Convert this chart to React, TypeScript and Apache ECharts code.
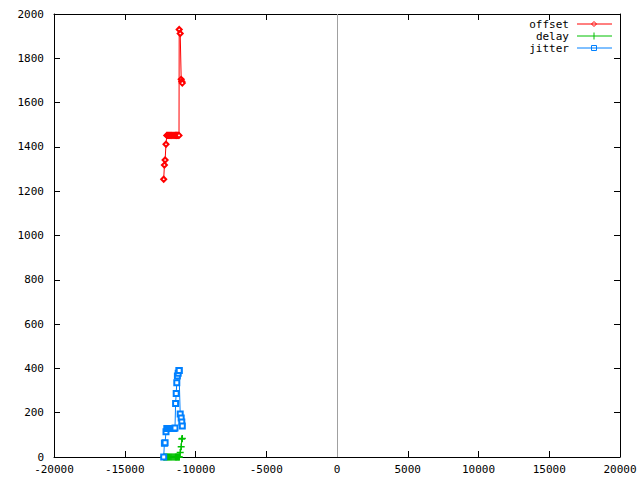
import React, { useEffect, useRef } from "react";
import * as echarts from "echarts";

const times = [
  -12247, -12198, -12148, -12085, -12028, -11972, -11915, -11852, -11788, -11724,
  -11661, -11590, -11519, -11449, -11406, -11364, -11322, -11279, -11223, -11166,
  -11152, -11081, -11011, -10968, -10933,
];
const offsetVals = [
  1254, 1318, 1341, 1412, 1452, 1452, 1452, 1452, 1452, 1452,
  1452, 1452, 1452, 1452, 1452, 1452, 1452, 1452, 1452, 1452,
  1930, 1912, 1705, 1695, 1688,
];
const delayVals = [
  0, 0, 0, 0, 0, 0, 0, 0, 0, 0,
  0, 0, 0, 0, 0, 0, 0, 0, 0, 0,
  0, 20, 46, 81, 84,
];
const jitterVals = [
  0, 62, 64, 114, 129, 129, 129, 129, 129, 129,
  129, 129, 129, 131, 242, 287, 335, 366, 378, 390,
  390, 194, 176, 158, 140,
];
const seriesNames = ["offset", "delay", "jitter"];
const seriesColors = ["#ff0000", "#00c000", "#0080ff"];

const FONT = "DejaVu Sans Mono";
const plusPath = "path://M4,0h2v4h4v2h-4v4h-2v-4h-4v-2h4z";

export default function App() {
  const ref = useRef<HTMLDivElement>(null);
  useEffect(() => {
    if (!ref.current) return;
    const chart = echarts.init(ref.current, undefined, { renderer: "svg" });
    const pair = (vals: number[]) => times.map((t, i) => [t, vals[i]]);
    const axisCommon = {
      axisLine: { show: true, onZero: false, lineStyle: { color: "#000", width: 1 } },
      axisTick: { show: true, inside: true, length: 6, lineStyle: { color: "#000" } },
      splitLine: { show: false },
    };
    const fmt = (v: number) => String(v);
    const legendRows = [24, 36, 48];
    const graphics: any[] = [];
    seriesNames.forEach((n, i) => {
      const y = legendRows[i];
      graphics.push({
        type: "text",
        x: 569,
        y,
        style: {
          text: n,
          font: `11px '${FONT}'`,
          lineHeight: 10,
          fill: "#000",
          align: "right",
          verticalAlign: "middle",
        },
      });
      graphics.push({
        type: "line",
        shape: { x1: 577, y1: y, x2: 612, y2: y },
        style: { stroke: seriesColors[i], lineWidth: 1 },
      });
    });
    graphics.push({
      type: "polygon",
      shape: { points: [[594, 21.5], [596.5, 24], [594, 26.5], [591.5, 24]] },
      style: { fill: "none", stroke: seriesColors[0], lineWidth: 1 },
    });
    graphics.push({
      type: "line",
      shape: { x1: 594, y1: 32.5, x2: 594, y2: 39.5 },
      style: { stroke: seriesColors[1], lineWidth: 1 },
    });
    graphics.push({
      type: "rect",
      shape: { x: 591.5, y: 45.5, width: 5, height: 5 },
      style: { fill: "none", stroke: seriesColors[2], lineWidth: 1 },
    });

    chart.setOption({
      animation: false,
      backgroundColor: "#fff",
      textStyle: { fontFamily: FONT },
      grid: { left: 54, right: 20, top: 14, bottom: 23 },
      xAxis: [
        {
          type: "value",
          min: -20000,
          max: 20000,
          interval: 5000,
          position: "bottom",
          ...axisCommon,
          axisLabel: { color: "#000", fontSize: 11, fontFamily: FONT, margin: 7, formatter: fmt },
        },
        {
          type: "value",
          min: -20000,
          max: 20000,
          interval: 5000,
          position: "top",
          ...axisCommon,
          axisLabel: { show: false },
        },
      ],
      yAxis: [
        {
          type: "value",
          min: 0,
          max: 2000,
          interval: 200,
          position: "left",
          ...axisCommon,
          axisLabel: { color: "#000", fontSize: 11, fontFamily: FONT, margin: 10, formatter: fmt },
        },
        {
          type: "value",
          min: 0,
          max: 2000,
          interval: 200,
          position: "right",
          ...axisCommon,
          axisLabel: { show: false },
        },
      ],
      graphic: graphics,
      series: [
        {
          name: seriesNames[0],
          type: "line",
          data: pair(offsetVals),
          symbol: "emptyDiamond",
          symbolSize: 5,
          showSymbol: true,
          lineStyle: { color: seriesColors[0], width: 1 },
          itemStyle: { color: seriesColors[0], borderWidth: 1 },
          markLine: {
            silent: true,
            symbol: "none",
            label: { show: false },
            lineStyle: { color: "#a0a0a0", width: 1, type: "solid" },
            data: [{ xAxis: 0 }],
          },
          z: 3,
        },
        {
          name: seriesNames[1],
          type: "line",
          data: pair(delayVals),
          symbol: plusPath,
          symbolSize: 7,
          showSymbol: true,
          lineStyle: { color: seriesColors[1], width: 1 },
          itemStyle: { color: seriesColors[1] },
          z: 4,
        },
        {
          name: seriesNames[2],
          type: "line",
          data: pair(jitterVals),
          symbol: "emptyRect",
          symbolSize: 5,
          showSymbol: true,
          lineStyle: { color: seriesColors[2], width: 1 },
          itemStyle: { color: seriesColors[2], borderWidth: 1 },
          z: 5,
        },
      ],
    });
    return () => chart.dispose();
  }, []);
  return (
    <div
      ref={ref}
      style={{ position: "absolute", left: 0, top: 0, width: 640, height: 480, background: "#fff" }}
    />
  );
}
